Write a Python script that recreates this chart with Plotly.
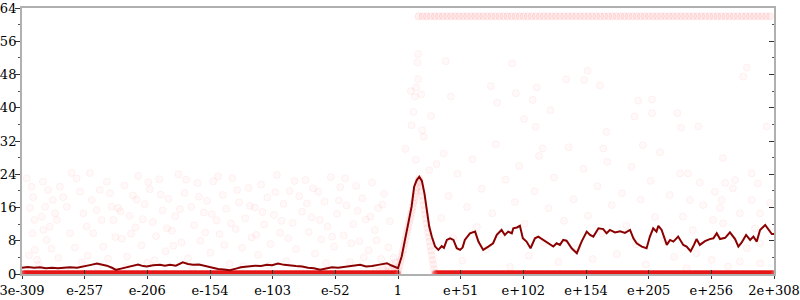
import plotly.graph_objects as go

# ---------------- data (x = binary exponent of the sampled double) ----------------
tick_labels = ["3e-309", "e-257", "e-206", "e-154", "e-103", "e-52", "1",
               "e+51", "e+102", "e+154", "e+205", "e+256", "2e+308"]
tick_exps = [-1024, -853.3, -682.7, -512, -341.3, -170.7, 0,
             170.7, 341.3, 512, 682.7, 853.3, 1024]

# moving-average line
line_exp = [-1024, -1008, -991, -975, -959, -942, -926, -912, -893, -874, -852, -836, -820,
            -806, -793, -779, -768, -754, -738, -722, -708, -694, -684, -667, -648, -635,
            -621, -605, -594, -586, -572, -558, -542, -523, -507, -490, -474, -458, -441,
            -428, -409, -389, -373, -357, -343, -327, -310, -294, -278, -261, -245, -229,
            -212, -196, -180, -163, -147, -131, -114, -103, -87, -71, -54, -41, -30, -19,
            -8, 0, 10, 19, 28, 37, 44, 51, 58, 65, 72, 78, 85, 92, 101, 110, 119, 125, 133,
            142, 151, 160, 169, 176, 182, 196, 210, 219, 232, 246, 259, 269, 282, 291, 300,
            310, 314, 324, 332, 340, 350, 361, 373, 382, 396, 409, 423, 432, 441, 450, 459,
            473, 487, 500, 514, 523, 532, 546, 559, 568, 577, 591, 605, 618, 632, 641, 650,
            664, 677, 686, 695, 704, 709, 718, 732, 741, 750, 763, 777, 786, 797, 806, 813,
            822, 836, 849, 859, 868, 877, 891, 904, 918, 927, 936, 948, 959, 968, 977, 986,
            1000, 1009, 1018, 1024]
line_val = [1.5, 1.7, 1.5, 1.6, 1.4, 1.5, 1.4, 1.5, 1.6, 1.5, 1.8, 2.2, 2.5,
            2.3, 2.0, 1.5, 1.0, 1.3, 1.6, 1.9, 2.3, 1.9, 1.8, 2.1, 2.2, 2.0,
            2.2, 2.0, 2.4, 2.8, 2.4, 2.2, 2.3, 1.9, 1.6, 1.2, 1.1, 0.9, 1.3,
            1.6, 1.8, 2.0, 1.9, 2.2, 2.1, 2.5, 2.2, 2.0, 1.9, 1.8, 1.5, 1.4,
            1.0, 1.3, 1.6, 1.5, 1.7, 1.9, 2.1, 2.2, 1.8, 1.9, 2.2, 2.5, 2.6, 2.1,
            1.8, 1.4, 4.2, 8.2, 12.2, 16.2, 21.0, 22.6, 23.4, 22.4, 19.4, 15.4, 11.4, 9.0, 6.6, 5.8, 6.7, 6.3, 8.2,
            8.6, 8.2, 6.2, 5.8, 6.4, 8.2, 9.8, 10.2, 7.8, 5.8, 6.6, 7.4, 9.4, 10.6, 9.4, 10.2,
            9.8, 11.0, 11.2, 11.6, 8.6, 7.8, 6.2, 8.6, 9.0, 8.2, 7.4, 6.6, 7.4, 7.0, 8.2, 8.0,
            6.2, 5.0, 7.8, 10.2, 9.4, 9.0, 11.0, 10.8, 9.8, 10.6, 10.0, 10.3, 9.9, 10.6, 8.6, 7.4,
            6.6, 6.2, 9.0, 11.0, 10.2, 11.6, 10.6, 7.0, 8.2, 7.8, 9.0, 7.0, 6.6, 5.5, 7.0, 8.4,
            7.0, 7.9, 8.4, 8.6, 9.8, 8.4, 8.7, 10.0, 8.4, 6.6, 7.6, 9.4, 8.2, 9.0, 7.8, 10.6,
            11.8, 10.6, 9.6, 9.6]

# samples equal to zero (everywhere except the 1..2^100 "tent")
zero_exp = [e for e in range(-1022, 1024) if not (0 <= e <= 100)]

# samples on the tent just above 1
tent_exp = list(range(0, 101, 2))
tent_val = [0.4, 1.2, 2.0, 2.9, 3.5, 4.3, 5.1, 5.8, 6.7, 7.4, 8.2, 9.0, 9.9, 10.6, 11.3,
            12.2, 13.0, 13.7, 14.6, 15.3, 16.1, 17.0, 17.7, 18.5, 19.4, 20.1, 20.9, 21.8,
            22.6, 23.0, 22.1, 21.0, 19.9, 18.8, 17.7, 16.6, 15.5, 14.4, 13.3, 12.2, 11.1,
            10.0, 8.9, 7.8, 6.7, 5.6, 4.5, 3.4, 2.3, 1.2, 0.3]

# samples at the ceiling (62) for large numbers
top_exp = list(range(56, 1022, 11))

# scattered samples
scat_exp = [-1011, -998, -994, -1002, -990, -996, -989, -983, -967, -961, -970, -966, -957,
            -953, -940, -934, -948, -929, -921, -912, -902, -893, -889, -875, -866, -857,
            -848, -839, -834, -830, -821, -812, -807, -803, -793, -784, -780, -775, -762,
            -1015, -1005, -978, -944, -925, -905, -880, -861, -845, -818, -790, -770,
            -752, -745, -738, -731, -722, -715, -708, -699, -690, -683, -676, -668, -659,
            -650, -641, -633, -625, -616, -607, -598, -590, -581, -572, -563, -555, -546,
            -538, -529, -520, -511, -503, -494, -486, -477, -468, -459, -451, -442, -433,
            -425, -416, -407, -399, -390, -381, -373, -364, -356, -347, -338, -330, -321,
            -312, -304, -295, -287, -278, -269, -261, -252, -243, -235, -226, -217, -209,
            -200, -192, -183, -174, -166, -157, -148, -140, -131, -122, -114, -105, -97,
            -88, -80, -71, -63, -54, -46, -38, -30, -22, -15, -9, -4, -2,
            -756, -741, -727, -712, -695, -680, -663, -646, -629, -612, -594, -577, -559,
            -542, -525, -507, -490, -473, -455, -438, -421, -403, -386, -369, -351, -334,
            -317, -299, -282, -265, -248, -231, -213, -196, -179, -161, -144, -127, -110,
            -93, -75, -58, -42, -26, -12, -6,
            -60, -50, -40, -32, -25, -18, -10,
            20, 35, 48, 70, 85, 90,
            55, 53, 55, 49, 46, 63, 42, 37, 66, 130, 144, 253, 270, 311, 321, 343, 367,
            378, 375, 415, 394, 458, 507, 516, 550, 568, 559, 654, 692, 692, 644, 667,
            761, 771, 818, 950, 940, 1004,
            885, 963, 768, 790, 918, 891, 980, 822, 863, 912, 882, 795, 963, 1013, 831,
            877, 931, 986, 776, 858, 885, 972, 803, 986, 950, 813, 854, 931, 986, 899, 786,
            105, 118, 124, 138, 150, 162, 175, 188, 203, 215, 228, 240, 257, 266, 280, 293,
            305, 318, 330, 345, 356, 372, 384, 398, 410, 425, 437, 452, 465, 478, 490, 505,
            518, 530, 543, 556, 570, 582, 596, 610, 622, 636, 648, 661, 675, 688, 700, 714,
            727, 740, 752]
scat_val = [23.0, 21.0, 18.5, 15.9, 13.0, 9.8, 5.8, 3.4, 22.2, 16.2, 13.8, 10.6, 8.2,
            20.2, 17.8, 14.6, 11.4, 13.0, 21.0, 18.5, 16.2, 9.8, 24.3, 23.0, 19.8, 14.6,
            11.4, 24.3, 17.8, 9.8, 15.4, 20.2, 13.0, 6.6, 22.2, 19.4, 16.2, 13.0, 15.9,
            1.2, 4.5, 2.1, 6.1, 3.9, 1.0, 6.4, 2.8, 4.4, 1.6, 3.7, 8.9,
            8.5, 21.3, 4.2, 14.0, 18.9, 11.2, 23.6, 6.9, 16.8, 2.7, 20.4, 12.5, 9.1,
            22.8, 15.3, 5.5, 18.1, 10.4, 13.9, 24.0, 7.6, 19.5, 3.8, 16.2, 11.7, 21.9,
            8.0, 14.8, 17.6, 5.1, 22.3, 12.9, 9.6, 19.0, 15.7, 2.4, 23.1, 10.8, 17.2,
            6.3, 13.4, 20.7, 8.8, 16.0, 4.6, 21.5, 11.9, 18.4, 7.2, 14.2, 23.8, 9.9,
            16.9, 3.1, 20.0, 12.3, 6.0, 18.7, 15.0, 22.6, 10.1, 13.6, 4.9, 19.8, 8.3,
            17.4, 11.4, 23.3, 6.6, 14.5, 20.9, 9.3, 16.5, 2.9, 12.0, 21.2, 7.9, 18.2,
            13.1, 5.7, 22.0, 10.6, 15.9, 3.6, 19.3, 1.8, 12.7, 2.2, 0.9, 1.5, 0.6,
            15.1, 1.6, 9.7, 17.9, 13.2, 22.1, 3.3, 19.1, 11.0, 6.8, 15.6, 22.7, 1.2,
            18.6, 10.0, 14.4, 23.5, 7.0, 12.2, 20.2, 1.9, 16.4, 9.4, 14.9, 2.0, 19.7,
            12.8, 8.6, 22.4, 1.4, 17.0, 20.6, 13.0, 2.6, 9.0, 17.7, 23.0, 7.4, 15.2,
            4.0, 13.8, 8.1, 16.7, 6.4, 3.9, 2.8,
            1.0, 0.8, 1.2, 0.5, 1.0, 0.7, 0.4,
            30.1, 44.0, 27.5, 33.0, 25.0, 38.0,
            52.9, 50.9, 46.9, 44.9, 42.7, 43.2, 39.0, 35.8, 34.6, 51.2, 42.7, 45.2, 41.2,
            50.7, 43.5, 37.3, 41.9, 44.9, 35.4, 39.4, 30.2, 46.8, 46.7, 48.9, 45.4, 34.2,
            30.2, 41.7, 42.0, 38.7, 37.9, 31.0, 38.7, 35.2, 35.5, 49.7, 47.5, 35.5,
            27.9, 24.2, 24.2, 24.2, 22.6, 21.9, 21.8, 22.0, 19.8, 20.6, 17.8, 17.8, 17.8,
            17.1, 16.6, 15.9, 14.6, 14.6, 13.8, 13.0, 12.2, 11.0, 10.6, 7.4, 6.2, 5.0, 3.4,
            3.0, 2.6, 1.8, 1.4,
            26.4, 13.5, 29.0, 18.8, 8.7, 24.1, 3.2, 16.1, 27.6, 11.3, 20.5, 5.9, 14.6, 31.2,
            9.4, 22.7, 1.7, 17.3, 26.0, 12.1, 4.4, 19.9, 28.4, 7.5, 15.8, 23.2, 2.9, 12.8,
            30.5, 18.0, 6.2, 25.3, 14.0, 3.6, 21.1, 9.8, 27.0, 16.6, 4.8, 19.4, 11.6, 25.8,
            7.1, 17.9, 2.3, 22.4, 13.7, 29.3, 8.3, 19.0, 4.1]

# ---------------- figure ----------------
fig = go.Figure()
fig.add_trace(go.Scatter(
    x=scat_exp, y=scat_val, mode="markers", hoverinfo="skip",
    marker=dict(size=7, color="rgba(255,0,0,0.025)",
                line=dict(color="rgba(255,0,0,0.05)", width=1))))
fig.add_trace(go.Scatter(
    x=top_exp, y=[62] * len(top_exp), mode="markers", hoverinfo="skip",
    marker=dict(size=7, color="rgba(255,0,0,0.05)",
                line=dict(color="rgba(255,0,0,0.08)", width=1))))
fig.add_trace(go.Scatter(
    x=tent_exp, y=tent_val, mode="markers", hoverinfo="skip",
    marker=dict(size=7, color="rgba(255,0,0,0.035)",
                line=dict(color="rgba(255,0,0,0.05)", width=1))))
fig.add_trace(go.Scatter(
    x=zero_exp, y=[0] * len(zero_exp), mode="markers", hoverinfo="skip",
    marker=dict(size=7, color="rgba(235,0,0,0.09)",
                line=dict(color="rgba(235,0,0,0.09)", width=1))))
fig.add_trace(go.Scatter(
    x=line_exp, y=line_val, mode="lines", hoverinfo="skip",
    line=dict(color="#8b0000", width=2)))
# invisible trace to activate overlay axes
fig.add_trace(go.Scatter(x=[0], y=[0], xaxis="x2", yaxis="y2", mode="markers",
                         marker=dict(opacity=0), hoverinfo="skip"))

axis_font = dict(family="DejaVu Serif", size=13, color="#000")
fig.update_layout(
    template="none",
    width=800, height=300,
    margin=dict(l=22, r=26, t=8, b=26, pad=0),
    paper_bgcolor="white", plot_bgcolor="white",
    showlegend=False,
    font=axis_font,
    xaxis=dict(range=[-1024, 1024], tickvals=tick_exps, ticktext=tick_labels,
               ticks="outside", ticklen=3, tickwidth=1, tickcolor="#333",
               showline=True, linecolor="#b0b0b0", linewidth=2, mirror=True,
               showgrid=False, zeroline=False, automargin=False, layer="below traces",
               ticklabeloverflow="allow", tickfont=axis_font),
    xaxis2=dict(range=[-1024, 1024], tickvals=tick_exps, showticklabels=False,
                overlaying="x", side="bottom", anchor="y",
                ticks="inside", ticklen=4, tickwidth=1, tickcolor="#333",
                showline=False, showgrid=False, zeroline=False, automargin=False),
    yaxis=dict(range=[0, 64], tick0=0, dtick=8,
               ticks="outside", ticklen=5, tickwidth=1, tickcolor="#333",
               minor=dict(dtick=4, tick0=0, ticks="outside", ticklen=2, tickcolor="#555",
                          showgrid=False),
               showline=True, linecolor="#b0b0b0", linewidth=2,
               showgrid=False, zeroline=False, automargin=False, layer="below traces",
               ticklabeloverflow="allow", ticklabelstandoff=-4, tickfont=axis_font),
    yaxis2=dict(range=[0, 64], tick0=0, dtick=8, overlaying="y", side="right",
                anchor="x", showticklabels=False,
                ticks="inside", ticklen=5, tickwidth=1, tickcolor="#333",
                minor=dict(dtick=4, tick0=0, ticks="inside", ticklen=2, tickcolor="#555",
                           showgrid=False),
                showline=True, linecolor="#b0b0b0", linewidth=2,
                showgrid=False, zeroline=False, automargin=False),
)

fig.write_html("out.html")
